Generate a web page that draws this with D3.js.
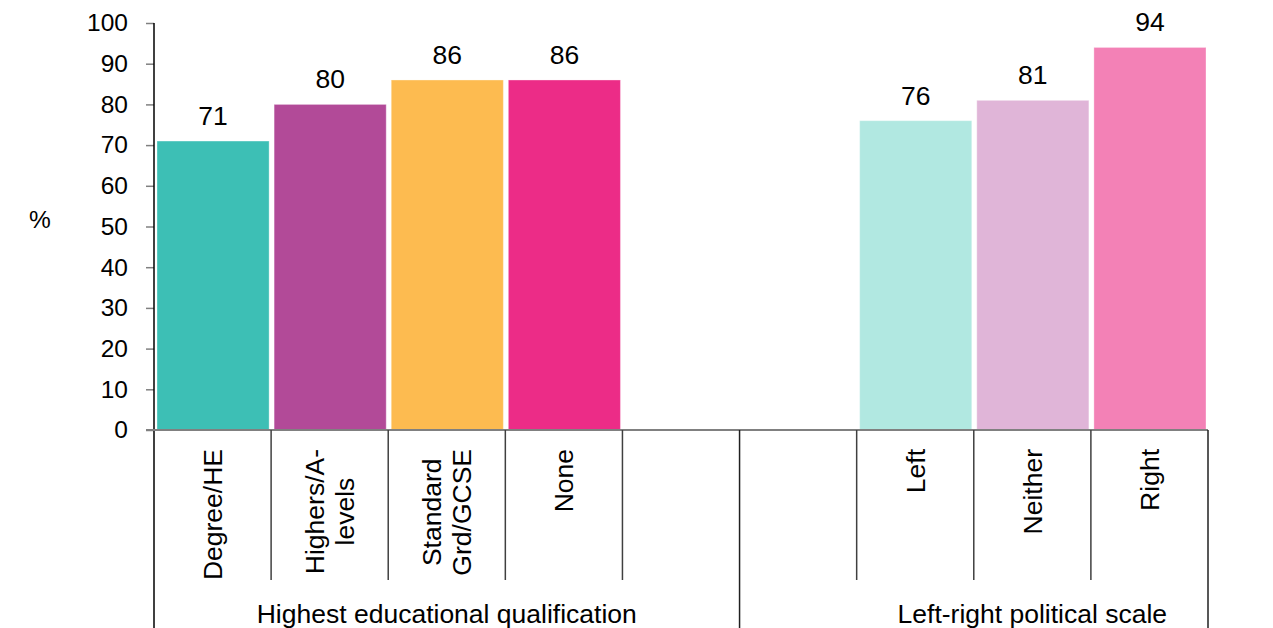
<!DOCTYPE html>
<html>
<head>
<meta charset="utf-8">
<script src="https://cdn.jsdelivr.net/npm/d3@7"></script>
<style>
  html, body { margin: 0; padding: 0; background: #fff; }
  svg { display: block; font-family: "Liberation Sans", Arial, sans-serif; }
</style>
</head>
<body>
<svg id="chart" width="1273" height="628"></svg>
<script>
// Category slots along the x axis ("" = empty spacer slot)
const categories = ["Degree/HE", "Highers/A-levels", "Standard Grd/GCSE", "None", "", "", "Left", "Neither", "Right"];
// Wrapped label lines for each slot
const categoryLines = [["Degree/HE"], ["Highers/A-", "levels"], ["Standard", "Grd/GCSE"], ["None"], [], [], ["Left"], ["Neither"], ["Right"]];
// Percentage per slot (null = no bar)
const values = [71, 80, 86, 86, null, null, 76, 81, 94];
const barColors = ["#3DBFB5", "#B24A98", "#FDBB50", "#EC2C87", null, null, "#B1E8E1", "#E0B5D8", "#F381B6"];
const yTicks = [0, 10, 20, 30, 40, 50, 60, 70, 80, 90, 100];
// Outer category groups: slot range bounded by long dividers, and slot range the label is centred over
const groupNames = ["Highest educational qualification", "Left-right political scale"];
const groupBounds = [[0, 5], [5, 9]];
const groupLabelSpans = [[0, 5], [6, 9]];

const svg = d3.select("#chart");
const fontSize = 26.5;
const tickFontSize = 24.5;
const plotLeft = 154, plotRight = 1208, plotTop = 23, plotBottom = 430;
const catBottom = 580, groupBottom = 628;

const x = d3.scaleBand().domain(d3.range(categories.length)).range([plotLeft, plotRight]).padding(0);
const y = d3.scaleLinear().domain([0, 100]).range([plotBottom, plotTop]);
const slotEdge = i => plotLeft + i * x.step();

// Bars
const barData = values.map((v, i) => ({ i, v, c: barColors[i] })).filter(d => d.v !== null);
svg.append("g").selectAll("rect").data(barData).join("rect")
  .attr("x", d => x(d.i) + 3)
  .attr("width", x.bandwidth() - 5)
  .attr("y", d => y(d.v))
  .attr("height", d => y(0) - y(d.v))
  .attr("fill", d => d.c)
  .attr("stroke", "#fff")
  .attr("stroke-opacity", 0.35)
  .attr("stroke-width", 1);

// Value labels
svg.append("g").selectAll("text").data(barData).join("text")
  .attr("x", d => x(d.i) + x.bandwidth() / 2 + 0.5)
  .attr("y", d => y(d.v) - 16)
  .attr("text-anchor", "middle")
  .attr("font-size", fontSize)
  .attr("fill", "#000")
  .text(d => d.v);

// Y axis
const yAxis = d3.axisLeft(y).tickValues(yTicks).tickSize(8).tickPadding(18);
const yg = svg.append("g").attr("transform", `translate(${plotLeft},0)`).call(yAxis);
yg.select(".domain").remove();
yg.selectAll(".tick line").attr("stroke", "#808080").attr("stroke-width", 1.5);
yg.selectAll(".tick text").attr("font-size", tickFontSize).attr("fill", "#000")
  .attr("font-family", "Liberation Sans, Arial, sans-serif");
svg.append("line")
  .attr("x1", plotLeft).attr("x2", plotLeft)
  .attr("y1", y(100)).attr("y2", groupBottom)
  .attr("stroke", "#000").attr("stroke-width", 1.5);

// Y axis title
svg.append("text")
  .attr("x", 40).attr("y", 222)
  .attr("text-anchor", "middle")
  .attr("dominant-baseline", "middle")
  .attr("font-size", fontSize - 2)
  .text("%");

// Category baseline
svg.append("line")
  .attr("x1", plotLeft - 8).attr("x2", plotRight)
  .attr("y1", y(0)).attr("y2", y(0))
  .attr("stroke", "#808080").attr("stroke-width", 2);

// Slot dividers: short between categories, long at group edges
const longEdges = new Set(groupBounds.flat());
svg.append("g").selectAll("line").data(d3.range(1, categories.length)).join("line")
  .filter(i => !longEdges.has(i))
  .attr("x1", i => slotEdge(i)).attr("x2", i => slotEdge(i))
  .attr("y1", y(0)).attr("y2", catBottom)
  .attr("stroke", "#404040").attr("stroke-width", 1.5);
svg.append("g").selectAll("line").data([...longEdges].filter(i => i > 0)).join("line")
  .attr("x1", i => slotEdge(i)).attr("x2", i => slotEdge(i))
  .attr("y1", y(0)).attr("y2", groupBottom)
  .attr("stroke", "#202020").attr("stroke-width", 1.5);

// Rotated category labels: lines centred on each other, longest line ending near the axis
const labelTop = 449;
const lineGap = fontSize * 1.12;
categoryLines.forEach((lines, i) => {
  if (!lines.length) return;
  const cx = x(i) + x.bandwidth() / 2;
  const g = svg.append("g");
  const texts = lines.map((ln, k) => g.append("text")
    .attr("font-size", fontSize)
    .attr("text-anchor", "middle")
    .attr("y", (k - (lines.length - 1) / 2) * lineGap + fontSize * 0.36)
    .text(ln));
  const maxLen = d3.max(texts, t => t.node().getComputedTextLength());
  g.attr("transform", `translate(${cx},${labelTop + maxLen / 2}) rotate(-90)`);
});

// Group labels
svg.append("g").selectAll("text").data(groupNames).join("text")
  .attr("x", (d, k) => (slotEdge(groupLabelSpans[k][0]) + slotEdge(groupLabelSpans[k][1])) / 2)
  .attr("y", 623)
  .attr("text-anchor", "middle")
  .attr("font-size", fontSize)
  .text(d => d);
</script>
</body>
</html>
